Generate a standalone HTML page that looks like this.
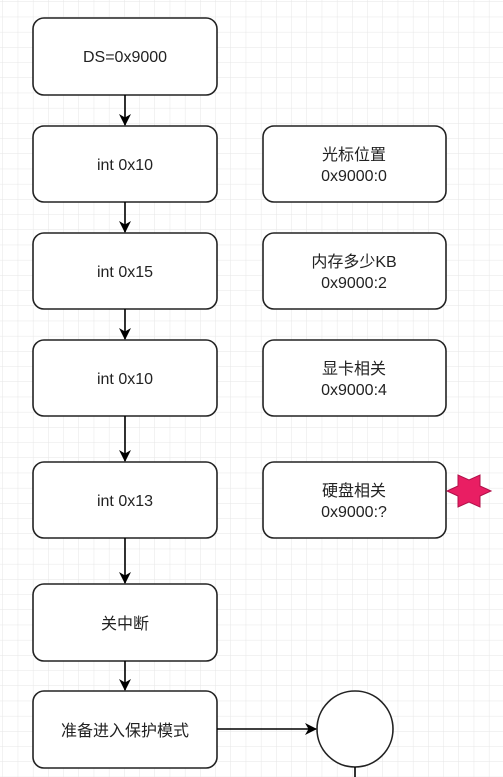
<!DOCTYPE html>
<html><head><meta charset="utf-8"><style>
html,body{margin:0;padding:0;background:#fff}
svg{display:block}
text{font-family:"Liberation Sans","Noto Sans CJK SC",sans-serif;font-size:16px;fill:#222;text-anchor:middle}
</style></head><body>
<svg width="503" height="777" viewBox="0 0 503 777" xmlns="http://www.w3.org/2000/svg">
<defs>
<pattern id="g" width="15.2" height="15.2" patternUnits="userSpaceOnUse" x="3" y="2">
<path d="M15.2 0V15.2M0 15.2H15.2" fill="none" stroke="#e6e6e6" stroke-width="1"/>
</pattern>
<marker id="a" markerWidth="12" markerHeight="12" refX="11" refY="6" orient="auto" markerUnits="userSpaceOnUse">
<path d="M0 0L12 6L0 12L3.5 6Z" fill="#000"/>
</marker>
</defs>
<rect width="503" height="777" fill="url(#g)"/>
<g fill="#fff" stroke="#222" stroke-width="1.6">
<rect x="33" y="18" width="184" height="77" rx="11"/>
<rect x="33" y="126" width="184" height="76" rx="11"/>
<rect x="33" y="233" width="184" height="76" rx="11"/>
<rect x="33" y="340" width="184" height="76" rx="11"/>
<rect x="33" y="462" width="184" height="76" rx="11"/>
<rect x="33" y="584" width="184" height="77" rx="11"/>
<rect x="33" y="691" width="184" height="77" rx="11"/>
<rect x="263" y="126" width="183" height="76" rx="11"/>
<rect x="263" y="233" width="183" height="76" rx="11"/>
<rect x="263" y="340" width="183" height="76" rx="11"/>
<rect x="263" y="462" width="183" height="76" rx="11"/>
<circle cx="355" cy="729" r="38"/>
</g>
<g stroke="#000" stroke-width="1.6" fill="none">
<line x1="125" y1="95" x2="125" y2="125" marker-end="url(#a)"/>
<line x1="125" y1="202" x2="125" y2="232" marker-end="url(#a)"/>
<line x1="125" y1="309" x2="125" y2="339" marker-end="url(#a)"/>
<line x1="125" y1="416" x2="125" y2="461" marker-end="url(#a)"/>
<line x1="125" y1="538" x2="125" y2="583" marker-end="url(#a)"/>
<line x1="125" y1="661" x2="125" y2="690" marker-end="url(#a)"/>
<line x1="217" y1="729" x2="316" y2="729" marker-end="url(#a)"/>
<line x1="355" y1="767" x2="355" y2="777"/>
</g>
<polygon points="491,491 480,486 480,475 469,480 458,475 458,486 447,491 458,496 458,507 469,502 480,507 480,496" fill="#e91e63" stroke="#b0104a" stroke-width="1"/>
<text x="125" y="62">DS=0x9000</text>
<text x="125" y="170">int 0x10</text>
<text x="125" y="277">int 0x15</text>
<text x="125" y="384">int 0x10</text>
<text x="125" y="506">int 0x13</text>
<text x="125" y="629">关中断</text>
<text x="125" y="736">准备进入保护模式</text>
<text x="354" y="160">光标位置</text><text x="354" y="181">0x9000:0</text>
<text x="354" y="267">内存多少KB</text><text x="354" y="288">0x9000:2</text>
<text x="354" y="374">显卡相关</text><text x="354" y="395">0x9000:4</text>
<text x="354" y="496">硬盘相关</text><text x="354" y="517">0x9000:?</text>
</svg>
</body></html>
